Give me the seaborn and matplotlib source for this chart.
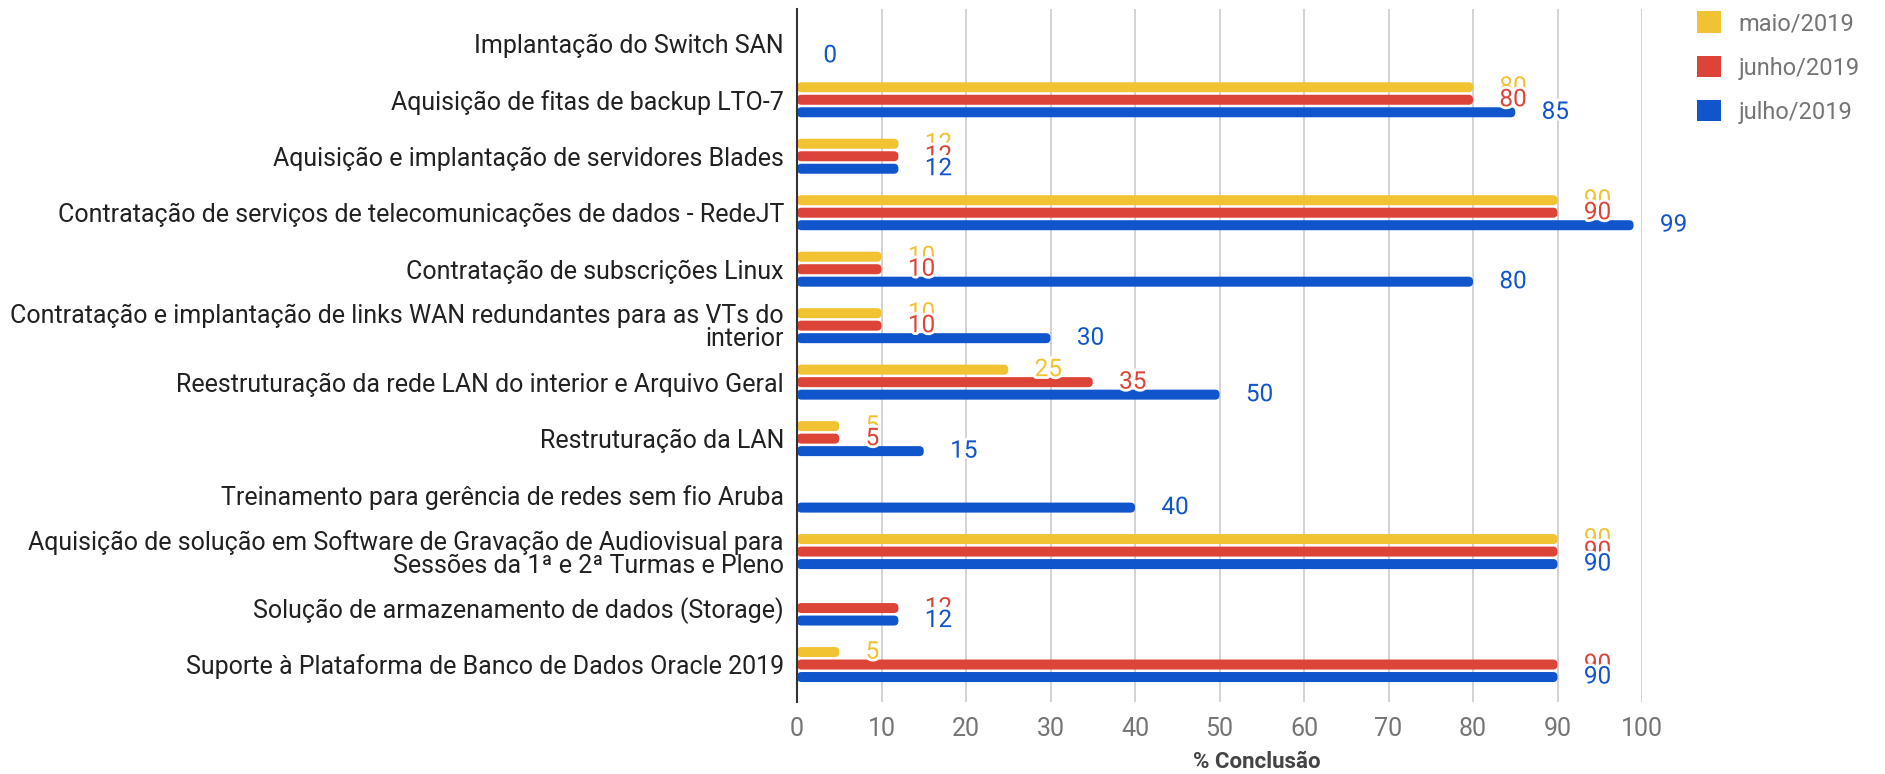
import matplotlib
matplotlib.use("Agg")
import matplotlib.pyplot as plt
import matplotlib.patheffects as pe
from matplotlib.patches import FancyBboxPatch, Patch
import seaborn as sns
import pandas as pd
import numpy as np

categories = [
    "Implantação do Switch SAN",
    "Aquisição de fitas de backup LTO-7",
    "Aquisição e implantação de servidores Blades",
    "Contratação de serviços de telecomunicações de dados - RedeJT",
    "Contratação de subscrições Linux",
    "Contratação e implantação de links WAN redundantes para as VTs do\ninterior",
    "Reestruturação da rede LAN do interior e Arquivo Geral",
    "Restruturação da LAN",
    "Treinamento para gerência de redes sem fio Aruba",
    "Aquisição de solução em Software de Gravação de Audiovisual para\nSessões da 1ª e 2ª Turmas e Pleno",
    "Solução de armazenamento de dados (Storage)",
    "Suporte à Plataforma de Banco de Dados Oracle 2019",
]
months = ["maio/2019", "junho/2019", "julho/2019"]
maio = [None, 80, 12, 90, 10, 10, 25, 5, None, 90, None, 5]
junho = [None, 80, 12, 90, 10, 10, 35, 5, None, 90, 12, 90]
julho = [0, 85, 12, 99, 80, 30, 50, 15, 40, 90, 12, 90]
x_ticks = [0, 10, 20, 30, 40, 50, 60, 70, 80, 90, 100]
colors = ["#F1C232", "#DC4437", "#1155CC"]

rows = []
for m, vals in zip(months, [maio, junho, julho]):
    for c, v in zip(categories, vals):
        if v is not None:
            rows.append({"Projeto": c, "Mês": m, "Conclusão": v})
df = pd.DataFrame(rows)

sns.set_theme(style="white")
plt.rcParams["font.family"] = ["Roboto", "DejaVu Sans"]

W, H = 1885, 774
fig = plt.figure(figsize=(W / 100, H / 100), dpi=100)
left_px, right_px, top_px, bot_px = 797, 1642, 9.4, 701.8
ax = fig.add_axes([left_px / W, 1 - bot_px / H, (right_px - left_px) / W, (bot_px - top_px) / H])

sns.barplot(data=df, y="Projeto", x="Conclusão", hue="Mês", order=categories,
            hue_order=months, palette=colors, saturation=1, orient="h",
            width=0.664, gap=0.2, errorbar=None, legend=False, ax=ax, zorder=2)

ax.set_xlim(0, 100)
ax.set_ylim(11.66, -0.6)

# rounded bars derived from the seaborn bars
xpx = (right_px - left_px) / 100.0
ypx = (bot_px - top_px) / 12.26
r = 4.5 / xpx
asp = (4.5 / ypx) / r
for cont in ax.containers:
    for bar in cont:
        x0, y0 = bar.get_x(), bar.get_y()
        w, h = bar.get_width(), bar.get_height()
        bar.set_visible(False)
        if not np.isfinite(w) or w <= 0:
            continue
        fb = FancyBboxPatch((x0, y0), w, h,
                            boxstyle=f"round,pad=0,rounding_size={r}",
                            mutation_aspect=asp, facecolor=bar.get_facecolor(),
                            edgecolor="none", zorder=2)
        ax.add_patch(fb)

for cont, col in zip(ax.containers, colors):
    ax.bar_label(cont, fmt="%g", padding=19, color=col, fontsize=17.5,
                 path_effects=[pe.withStroke(linewidth=4, foreground="white")])

ax.set_xticks(x_ticks)
ax.set_xticklabels([str(t) for t in x_ticks])
ax.grid(axis="x", color="#cccccc", linewidth=1.2, zorder=0)
ax.grid(axis="y", visible=False)
ax.set_axisbelow(True)
for s in ["top", "right", "bottom"]:
    ax.spines[s].set_visible(False)
ax.spines["left"].set_color("#333333")
ax.spines["left"].set_linewidth(1.5)
ax.spines["left"].set_zorder(4)

ax.tick_params(axis="x", length=0, pad=11, labelsize=18, labelcolor="#757575")
ax.tick_params(axis="y", length=0, pad=9.4, labelsize=18, labelcolor="#212121")
for t in ax.get_yticklabels():
    t.set_linespacing(0.95)

ax.set_ylabel("")
ax.set_xlabel("% Conclusão", fontsize=16, fontweight="bold", color="#444444")
ax.xaxis.set_label_coords(0.544, -0.087)
ax.xaxis.label.set_va("center")

handles = [Patch(facecolor=c, edgecolor="none", label=m) for c, m in zip(colors, months)]
leg = fig.legend(handles=handles, loc="upper left",
                 bbox_to_anchor=(1688 / W, 1 - 2 / H), frameon=False,
                 fontsize=17, handlelength=1.0, handleheight=1.0,
                 handletextpad=0.75, labelspacing=0.88, borderaxespad=0)
for t in leg.get_texts():
    t.set_color("#757575")

fig.savefig("out.png", dpi=100)
